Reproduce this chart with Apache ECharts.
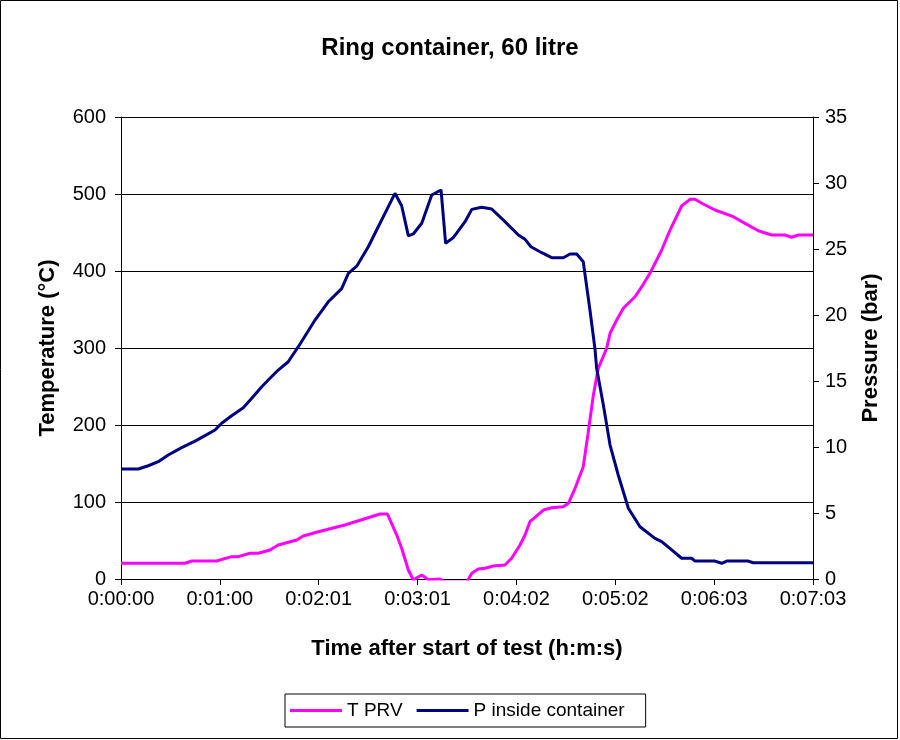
<!DOCTYPE html>
<html>
<head>
<meta charset="utf-8">
<title>Ring container, 60 litre</title>
<script src="https://cdn.jsdelivr.net/npm/echarts@6/dist/echarts.min.js"></script>
<style>
  html, body { margin: 0; padding: 0; background: #fff; }
  #chart { width: 900px; height: 740px; }
</style>
</head>
<body>
<div id="chart"></div>
<script>
// time in seconds after start
const tprvTime = [0, 39.2, 43.3, 58.5, 67.7, 71.8, 78.9, 84.0, 91.2, 96.2, 107.5, 111.5, 120.7, 137.0,
  158.5, 163.0, 168.7, 171.7, 175.8, 178.8, 184.0, 188.0, 195.2, 198.2, 211.5, 214.6, 218.6, 222.7,
  227.8, 234.9, 239.0, 244.1, 247.2, 250.2, 258.4, 263.5, 270.6, 273.7, 277.8, 282.8, 285.9, 289.0,
  292.0, 297.1, 299.2, 303.3, 307.3, 314.5, 318.6, 323.6, 330.8, 335.9, 343.0, 348.1, 351.2, 356.2,
  363.4, 374.6, 381.8, 389.9, 398.1, 406.2, 410.3, 414.4, 423.36];
const tprvValue = [20.4, 20.4, 23.4, 23.4, 29.0, 29.0, 33.4, 33.4, 37.7, 44.2, 50.6, 55.8, 61.4, 70.1,
  84.4, 84.4, 57.1, 39.9, 11.7, -1, 5.2, -1, 0, -4, -4, 7.4, 13.0, 13.9,
  16.9, 18.2, 26.9, 44.2, 57.1, 74.4, 89.6, 92.6, 93.9, 98.3, 117.8, 145.8, 191.3, 239.0,
  273.6, 299.6, 319.1, 336.4, 351.6, 366.6, 379.6, 397.0, 427.3, 453.2, 484.4, 493.1, 493.1, 487.0,
  479.2, 470.5, 461.9, 452.3, 446.8, 446.8, 443.8, 446.8, 446.8];

const pressTime = [0, 10.6, 16.7, 22.8, 28.9, 37.1, 45.3, 51.4, 57.5, 61.6, 67.7, 74.8, 80.0, 86.1,
  90.1, 96.2, 102.3, 108.5, 118.7, 126.8, 135.0, 139.1, 144.2, 151.3, 155.4, 161.5, 167.6, 171.7,
  175.8, 178.8, 184.0, 190.1, 195.8, 198.6, 203.3, 210.5, 214.6, 220.7, 226.8, 234.9, 243.1, 247.2,
  250.8, 257.4, 263.5, 270.6, 274.7, 278.8, 282.8, 286.9, 290.0, 291.0, 295.1, 299.2, 304.2, 310.4,
  317.5, 326.7, 330.8, 336.9, 343.0, 349.1, 351.2, 363.4, 367.5, 370.6, 383.8, 386.8, 423.36];
const pressValue = [8.33, 8.33, 8.58, 8.89, 9.39, 9.95, 10.45, 10.86, 11.29, 11.80, 12.37, 12.98, 13.69, 14.57,
  15.08, 15.83, 16.46, 17.6, 19.62, 21.0, 22.0, 23.16, 23.7, 25.17, 26.19, 27.7, 29.22, 28.28,
  26.0, 26.14, 26.95, 29.09, 29.47, 25.43, 25.86, 27.07, 28.0, 28.16, 28.03, 27.07, 26.06, 25.73,
  25.17, 24.72, 24.34, 24.34, 24.62, 24.62, 24.04, 20.38, 17.4, 15.96, 13.18, 10.15, 7.88, 5.36,
  3.96, 3.08, 2.83, 2.2, 1.57, 1.57, 1.36, 1.36, 1.19, 1.36, 1.36, 1.23, 1.23];

const seriesNames = ['T PRV', 'P inside container'];

function pairs(xs, ys) {
  return xs.map((x, i) => [x, ys[i]]);
}

// seconds -> h:mm:ss
function hms(sec) {
  const s = Math.round(sec);
  const h = Math.floor(s / 3600);
  const m = Math.floor((s % 3600) / 60);
  const r = s % 60;
  return h + ':' + String(m).padStart(2, '0') + ':' + String(r).padStart(2, '0');
}

const font = '"Liberation Sans", Arial, sans-serif';
const nameStyle = { fontSize: 22, fontWeight: 'bold', color: '#000', fontFamily: font };

const myChart = echarts.init(document.getElementById('chart'));
const option = {
  animation: false,
  backgroundColor: '#fff',
  textStyle: { fontFamily: font },
  title: {
    text: 'Ring container, 60 litre',
    left: 'center',
    top: 31,
    textStyle: { fontSize: 24, fontWeight: 'bold', color: '#000', fontFamily: font }
  },
  graphic: [{
    type: 'rect',
    shape: { x: 0.5, y: 0.5, width: 897, height: 738 },
    style: { fill: 'none', stroke: '#000', lineWidth: 1 },
    silent: true
  }],
  legend: {
    data: seriesNames,
    top: 694,
    left: 285,
    icon: 'rect',
    itemWidth: 52,
    itemHeight: 3,
    itemGap: 14,
    padding: [7, 21, 7, 5],
    borderColor: '#000',
    borderWidth: 1,
    borderRadius: 0,
    textStyle: { fontSize: 19, color: '#000', fontFamily: font }
  },
  grid: {
    left: 121,
    right: 87,
    top: 117,
    bottom: 161
  },
  xAxis: {
    type: 'value',
    min: 0,
    max: 423.36,
    interval: 60.48,
    name: 'Time after start of test (h:m:s)',
    nameLocation: 'middle',
    nameGap: 59,
    nameTextStyle: nameStyle,
    axisLine: { lineStyle: { color: '#000', width: 1 } },
    axisTick: { show: true, length: 6, lineStyle: { color: '#000' } },
    axisLabel: {
      fontSize: 20, color: '#000', margin: 10,
      showMaxLabel: true, showMinLabel: true,
      formatter: v => hms(v)
    },
    splitLine: { show: false }
  },
  yAxis: [
    {
      type: 'value',
      min: 0,
      max: 600,
      interval: 100,
      name: 'Temperature (°C)',
      nameLocation: 'middle',
      nameGap: 62,
      nameTextStyle: nameStyle,
      axisLine: { show: true, lineStyle: { color: '#000', width: 1 } },
      axisTick: { show: true, length: 6, lineStyle: { color: '#000' } },
      axisLabel: { fontSize: 20, color: '#000', margin: 15 },
      splitLine: { show: true, lineStyle: { color: '#000', width: 1 } }
    },
    {
      type: 'value',
      min: 0,
      max: 35,
      interval: 5,
      name: 'Pressure (bar)',
      nameLocation: 'middle',
      nameGap: 47,
      nameTextStyle: nameStyle,
      axisLine: { show: true, lineStyle: { color: '#000', width: 1 } },
      axisTick: { show: true, length: 6, lineStyle: { color: '#000' } },
      axisLabel: { fontSize: 20, color: '#000', margin: 12 },
      splitLine: { show: false }
    }
  ],
  series: [
    {
      name: seriesNames[0],
      type: 'line',
      yAxisIndex: 0,
      symbol: 'none',
      clip: true,
      data: pairs(tprvTime, tprvValue),
      lineStyle: { color: '#FF00FF', width: 3 },
      itemStyle: { color: '#FF00FF' }
    },
    {
      name: seriesNames[1],
      type: 'line',
      yAxisIndex: 1,
      symbol: 'none',
      clip: true,
      data: pairs(pressTime, pressValue),
      lineStyle: { color: '#000080', width: 3 },
      itemStyle: { color: '#000080' }
    }
  ]
};

myChart.setOption(option);
window.addEventListener('resize', function() {
  myChart.resize();
});
</script>
</body>
</html>
